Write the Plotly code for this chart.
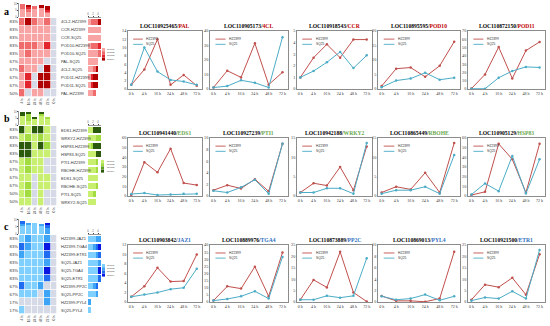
import plotly.graph_objects as go

W, H = 550, 326
def px(x): return x / W
def py(y): return 1 - y / H
def sfx(n): return "" if n == 1 else str(n)

# ---------------- data ----------------
TIMES = ["0 h", "4 h", "16 h", "24 h", "48 h", "72 h"]
SERIES = ["HZ2399", "SQ25"]

# row a (phenylpropanoid)
PAL_HZ = [1.0, 4.7, 12.0, 1.0, 3.4, 0.8];   PAL_SQ = [1.0, 10.0, 4.2, 2.2, 1.8, 1.0]
CL4_HZ = [1.0, 12.6, 8.0, 31.5, 3.0, 11.5]; CL4_SQ = [1.0, 2.0, 6.0, 4.3, 1.0, 35.7]
CCR_HZ = [1.0, 2.7, 3.85, 2.7, 4.26, 4.26]; CCR_SQ = [1.0, 1.55, 2.3, 3.2, 1.8, 2.9]
POD10_HZ = [1.0, 7.0, 7.4, 4.2, 8.0, 16.3]; POD10_SQ = [0.6, 2.9, 3.6, 5.6, 3.2, 3.9]
POD11_HZ = [0.5, 17.6, 50.6, 12.7, 46.4, 56.8]; POD11_SQ = [0.3, 0.3, 13.6, 21.7, 26.7, 26.0]
# row b (defence)
EDS1_HZ = [1.0, 35.0, 24.5, 49.0, 13.4, 11.3]; EDS1_SQ = [2.0, 3.0, 1.0, 1.5, 2.2, 2.2]
PTI1_HZ = [1.0, 1.86, 1.3, 2.9, 0.8, 9.0];  PTI1_SQ = [0.9, 0.6, 1.5, 2.8, 0.4, 9.0]
WRKY2_HZ = [0.9, 3.3, 2.7, 7.5, 1.5, 12.8]; WRKY2_SQ = [0.9, 0.9, 2.0, 2.0, 0.6, 13.7]
RBOHE_HZ = [0.9, 2.4, 1.7, 6.0, 0.9, 13.7]; RBOHE_SQ = [0.6, 1.5, 1.5, 2.4, 0.6, 10.6]
HSP83_HZ = [1.0, 4.3, 54.0, 38.0, 3.5, 54.0]; HSP83_SQ = [1.5, 13.0, 5.0, 41.5, 2.5, 38.0]
# row c (hormone)
JAZ1_HZ = [1.1, 3.3, 7.2, 4.3, 4.4, 10.0];  JAZ1_SQ = [1.1, 1.6, 2.0, 2.7, 3.0, 7.0]
TGA4_HZ = [1.0, 11.0, 9.4, 24.8, 4.0, 34.7]; TGA4_SQ = [1.0, 2.1, 4.0, 7.5, 2.4, 31.6]
PP2C_HZ = [1.0, 9.7, 6.4, 22.0, 4.2, 0.2];  PP2C_SQ = [1.0, 1.0, 2.7, 1.9, 2.7, 19.2]
PYL4_HZ = [1.06, 0.2, 0.2, 0.05, 0.6, 8.8]; PYL4_SQ = [1.0, 0.4, 0.6, 1.3, 0.3, 1.0]
ETR1_HZ = [1.0, 7.6, 6.5, 10.6, 3.2, 20.9]; ETR1_SQ = [0.6, 2.0, 1.5, 4.7, 1.5, 22.8]

LINE_IDS = ["LOC110925465", "LOC110905173", "LOC110918543", "LOC110895595", "LOC110872150",
            "LOC110941440", "LOC110927239", "LOC110942188", "LOC110865449", "LOC110905129",
            "LOC110903842", "LOC110889976", "LOC110873889", "LOC110869013", "LOC110921500"]
LINE_GENES = ["PAL", "4CL", "CCR", "POD10", "POD11",
              "EDS1", "PTI1", "WRKY2", "RBOHE", "HSP83",
              "JAZ1", "TGA4", "PP2C", "PYL4", "ETR1"]
LINE_HZ = [PAL_HZ, CL4_HZ, CCR_HZ, POD10_HZ, POD11_HZ,
           EDS1_HZ, PTI1_HZ, WRKY2_HZ, RBOHE_HZ, HSP83_HZ,
           JAZ1_HZ, TGA4_HZ, PP2C_HZ, PYL4_HZ, ETR1_HZ]
LINE_SQ = [PAL_SQ, CL4_SQ, CCR_SQ, POD10_SQ, POD11_SQ,
           EDS1_SQ, PTI1_SQ, WRKY2_SQ, RBOHE_SQ, HSP83_SQ,
           JAZ1_SQ, TGA4_SQ, PP2C_SQ, PYL4_SQ, ETR1_SQ]
Y_MAX = [14, 40, 5, 20, 70, 60, 10, 15, 15, 60, 12, 40, 25, 10, 25]
Y_STEP = [2, 10, 1, 5, 10, 10, 2, 5, 5, 10, 2, 5, 5, 2, 5]

# heatmaps (0 = no change / grey, 1..4 = increasing up-regulation group)
HM_COLS = ["4 h", "16 h", "24 h", "48 h", "72 h", "0 h"]
HM_A_ROWS = ["4CL2-HZ2399", "CCR-HZ2399", "CCR-SQ25", "POD10-HZ2399", "POD10-SQ25",
             "PAL-SQ25", "4CL2-SQ25", "POD11-HZ2399", "POD11-SQ25", "PAL-HZ2399"]
HM_A_PCT = ["83%", "83%", "83%", "83%", "83%", "67%", "67%", "67%", "67%", "50%"]
HM_A = [[2, 4, 2, 1, 2, 0], [1, 1, 1, 1, 1, 0], [1, 1, 1, 1, 1, 0], [2, 2, 2, 1, 3, 0],
        [1, 2, 1, 1, 1, 0], [1, 1, 1, 1, 0, 0], [2, 1, 1, 0, 4, 0], [1, 3, 0, 4, 4, 0],
        [1, 3, 0, 4, 4, 0], [2, 0, 1, 1, 0, 0]]
HM_B_ROWS = ["EDS1-HZ2399", "WRKY2-HZ2399", "HSP83-HZ2399", "HSP83-SQ25", "PTI1-HZ2399",
             "RBOHE-HZ2399", "EDS1-SQ25", "RBOHE-SQ25", "PTI1-SQ25", "WRKY2-SQ25"]
HM_B_PCT = ["83%", "83%", "83%", "83%", "67%", "67%", "67%", "67%", "50%", "50%"]
HM_B = [[4, 1, 4, 4, 1, 0], [1, 2, 1, 2, 1, 0], [4, 4, 1, 4, 2, 0], [4, 4, 1, 1, 1, 0],
        [1, 2, 1, 1, 0, 0], [1, 2, 1, 1, 0, 0], [1, 1, 0, 1, 1, 0], [1, 2, 0, 1, 1, 0],
        [1, 2, 0, 1, 0, 0], [1, 1, 0, 1, 0, 0]]
HM_C_ROWS = ["HZ2399-JAZ1", "HZ2399-TGA4", "HZ2399-ETR1", "SQ25-JAZ1", "SQ25-TGA4",
             "SQ25-ETR1", "HZ2399-PP2C", "SQ25-PP2C", "HZ2399-PYL4", "SQ25-PYL4"]
HM_C_PCT = ["83%", "83%", "83%", "83%", "83%", "83%", "67%", "67%", "17%", "17%"]
HM_C = [[1, 2, 1, 1, 2, 0], [3, 2, 1, 1, 4, 0], [2, 1, 1, 1, 3, 0], [1, 1, 1, 1, 2, 0],
        [1, 1, 1, 1, 4, 0], [1, 1, 1, 1, 3, 0], [3, 1, 1, 2, 0, 0], [1, 1, 1, 0, 2, 0],
        [0, 0, 0, 0, 2, 0], [1, 0, 0, 0, 0, 0]]
GROUPS = ["group1", "group2", "group3", "group4"]

# ---------------- style ----------------
HZ_COLOR = "#c0504d"
SQ_COLOR = "#4bacc6"
GREY = "#d6d9e6"
PALETTES = {
    "a": ["#f8a4a4", "#f06c6c", "#e3262e", "#b00000"],
    "b": ["#c9ef70", "#a2dc40", "#5f9f22", "#2b5a0c"],
    "c": ["#7fd0ff", "#3ea4f5", "#1f6cf0", "#0a17e0"],
}
GENE_COLOR = {"a": "#c00000", "b": "#6aa84f", "c": "#2f6fc0"}
SERIF = "Liberation Serif"
SANS = "Liberation Sans"

COLS_PX = [(128, 202), (210, 288), (297, 372), (378, 460), (468, 545)]
ROWS_PX = [(31, 89), (138, 196), (245, 302)]
ROW_KEYS = ["a", "b", "c"]

fig = go.Figure()
layout = dict(width=W, height=H, margin=dict(l=0, r=0, t=0, b=0, autoexpand=False),
              paper_bgcolor="white", plot_bgcolor="white", showlegend=False,
              barmode="stack", bargap=0.22)
annotations, shapes = [], []

# ---------------- line plots ----------------
for i in range(15):
    r, c = divmod(i, 5)
    n = i + 1
    x0, x1 = COLS_PX[c]
    y0, y1 = ROWS_PX[r]
    xa, ya = f"x{sfx(n)}", f"y{sfx(n)}"
    layout[f"xaxis{sfx(n)}"] = dict(domain=[px(x0), px(x1)], anchor=ya, type="category",
                                    range=[-0.25, 5.4], showline=True, mirror=True,
                                    linecolor="#8c8c8c", linewidth=0.8, showgrid=False,
                                    automargin=False, ticks="",
                                    tickfont=dict(size=4, family=SERIF, color="#333"))
    layout[f"yaxis{sfx(n)}"] = dict(domain=[py(y1), py(y0)], anchor=xa, range=[0, Y_MAX[i]],
                                    dtick=Y_STEP[i], showline=True, mirror=True,
                                    linecolor="#8c8c8c", linewidth=0.8, showgrid=False,
                                    zeroline=False, ticks="", automargin=False,
                                    tickfont=dict(size=4.2, family=SERIF, color="#333"))
    for vals, col in ((LINE_HZ[i], HZ_COLOR), (LINE_SQ[i], SQ_COLOR)):
        fig.add_trace(go.Scatter(x=TIMES, y=vals, mode="lines+markers",
                                 line=dict(color=col, width=1),
                                 marker=dict(size=2.5, color=col),
                                 xaxis=xa, yaxis=ya, hoverinfo="skip"))
    # in-plot legend
    for k, (name, col) in enumerate(zip(SERIES, (HZ_COLOR, SQ_COLOR))):
        yy = 0.86 - k * 0.09
        shapes.append(dict(type="line", xref=f"{xa} domain", yref=f"{ya} domain",
                           x0=0.07, x1=0.2, y0=yy, y1=yy, line=dict(color=col, width=0.9)))
        annotations.append(dict(xref=f"{xa} domain", yref=f"{ya} domain", x=0.22, y=yy,
                                text=name, showarrow=False, xanchor="left", yanchor="middle",
                                font=dict(size=3.3, family=SANS, color="#333")))
    gcol = GENE_COLOR[ROW_KEYS[r]]
    annotations.append(dict(xref="paper", yref="paper", x=px((x0 + x1) / 2), y=py(y0 - 0.5),
                            xanchor="center", yanchor="bottom", showarrow=False,
                            text=f"<b>{LINE_IDS[i]}/<span style='color:{gcol}'>{LINE_GENES[i]}</span></b>",
                            font=dict(size=5.6, family=SERIF, color="black")))

# ---------------- heatmaps ----------------
HM_SETS = [
    ("a", HM_A, HM_A_ROWS, HM_A_PCT, (18, 97), (3, 17), (102, 48)),
    ("b", HM_B, HM_B_ROWS, HM_B_PCT, (126, 206), (111, 125), (101, 160)),
    ("c", HM_C, HM_C_ROWS, HM_C_PCT, (235, 314), (219, 234), (102, 264)),
]
HM_X = (19, 57)
SIDE_X = (88, 101)
for k, (key, mat, rows, pct, (hy0, hy1), (ty0, ty1), (lx, ly)) in enumerate(HM_SETS):
    pal = PALETTES[key]
    nh, nt, ns = 16 + k, 19 + k, 22 + k
    cs = [[0, GREY], [0.125, GREY], [0.125, pal[0]], [0.375, pal[0]], [0.375, pal[1]],
          [0.625, pal[1]], [0.625, pal[2]], [0.875, pal[2]], [0.875, pal[3]], [1, pal[3]]]
    fig.add_trace(go.Heatmap(z=mat, x=list(range(6)), y=list(range(10)), zmin=0, zmax=4,
                             colorscale=cs, showscale=False, xgap=0.7, ygap=0.7,
                             xaxis=f"x{nh}", yaxis=f"y{nh}", hoverinfo="skip"))
    layout[f"xaxis{nh}"] = dict(domain=[px(HM_X[0]), px(HM_X[1])], anchor=f"y{nh}",
                                range=[-0.5, 5.5], tickvals=list(range(6)), ticktext=HM_COLS,
                                tickangle=-90, ticks="", showgrid=False, zeroline=False,
                                automargin=False, ticklabelstandoff=0,
                                tickfont=dict(size=3.4, family=SANS, color="#333"))
    layout[f"yaxis{nh}"] = dict(domain=[py(hy1), py(hy0)], anchor=f"x{nh}",
                                range=[9.5, -0.5], tickvals=list(range(10)), ticktext=pct,
                                ticks="", showgrid=False, zeroline=False, automargin=False,
                                tickfont=dict(size=4.2, family=SANS, color="#333"))
    for ri, name in enumerate(rows):
        annotations.append(dict(xref="paper", yref=f"y{nh}", x=px(59), y=ri, text=name,
                                showarrow=False, xanchor="left", yanchor="middle",
                                font=dict(size=4, family=SANS, color="#333")))
    # column totals (top) and row totals (side), stacked by group
    for lev in range(1, 5):
        col_counts = [sum(1 for row in mat if row[j] == lev) for j in range(5)]
        fig.add_trace(go.Bar(x=list(range(5)), y=col_counts,
                             marker=dict(color=pal[lev - 1], line=dict(width=0)),
                             width=0.75, xaxis=f"x{nt}", yaxis=f"y{nt}", hoverinfo="skip"))
        row_counts = [sum(1 for v in row if v == lev) for row in mat]
        fig.add_trace(go.Bar(y=list(range(10)), x=row_counts, orientation="h",
                             marker=dict(color=pal[lev - 1], line=dict(width=0)),
                             xaxis=f"x{ns}", yaxis=f"y{ns}", hoverinfo="skip"))
    layout[f"xaxis{nt}"] = dict(domain=[px(HM_X[0]), px(HM_X[1])], anchor=f"y{nt}",
                                range=[-0.5, 5.5], visible=False, automargin=False)
    layout[f"yaxis{nt}"] = dict(domain=[py(ty1), py(ty0)], anchor=f"x{nt}", range=[0, 10.5],
                                dtick=5, showgrid=False, zeroline=False, showline=True,
                                linecolor="#999", linewidth=0.5, ticks="outside", ticklen=1,
                                tickwidth=0.5, automargin=False,
                                tickfont=dict(size=2.6, family=SANS, color="#555"))
    layout[f"xaxis{ns}"] = dict(domain=[px(SIDE_X[0]), px(SIDE_X[1])], anchor=f"y{ns}",
                                side="top", range=[0, 5.2], dtick=2, showgrid=False,
                                zeroline=False, showline=True, linecolor="#999", linewidth=0.5,
                                ticks="outside", ticklen=1, tickwidth=0.5, automargin=False,
                                tickfont=dict(size=2.6, family=SANS, color="#555"))
    layout[f"yaxis{ns}"] = dict(domain=[py(hy1), py(hy0)], anchor=f"x{ns}",
                                range=[9.5, -0.5], visible=False, automargin=False)
    # group key
    for g in range(4):
        sy = ly + g * 3.2
        shapes.append(dict(type="rect", xref="paper", yref="paper", x0=px(lx), x1=px(lx + 3),
                           y0=py(sy + 3), y1=py(sy), fillcolor=pal[g], line=dict(width=0)))
        annotations.append(dict(xref="paper", yref="paper", x=px(lx + 3.5), y=py(sy + 1.5),
                                text=GROUPS[g], showarrow=False, xanchor="left", yanchor="middle",
                                font=dict(size=2.4, family=SANS, color="#444")))
    annotations.append(dict(xref="paper", yref="paper", x=px(2), y=py(ty0 + 7 if k else 11),
                            text=f"<b>{key}</b>", showarrow=False, xanchor="left",
                            yanchor="middle", font=dict(size=10, family=SERIF, color="black")))

layout["annotations"] = annotations
layout["shapes"] = shapes
fig.update_layout(**layout)
fig.write_html("out.html", config={"displayModeBar": False},
               post_script="document.body.style.margin='0';document.body.style.overflow='hidden';")
